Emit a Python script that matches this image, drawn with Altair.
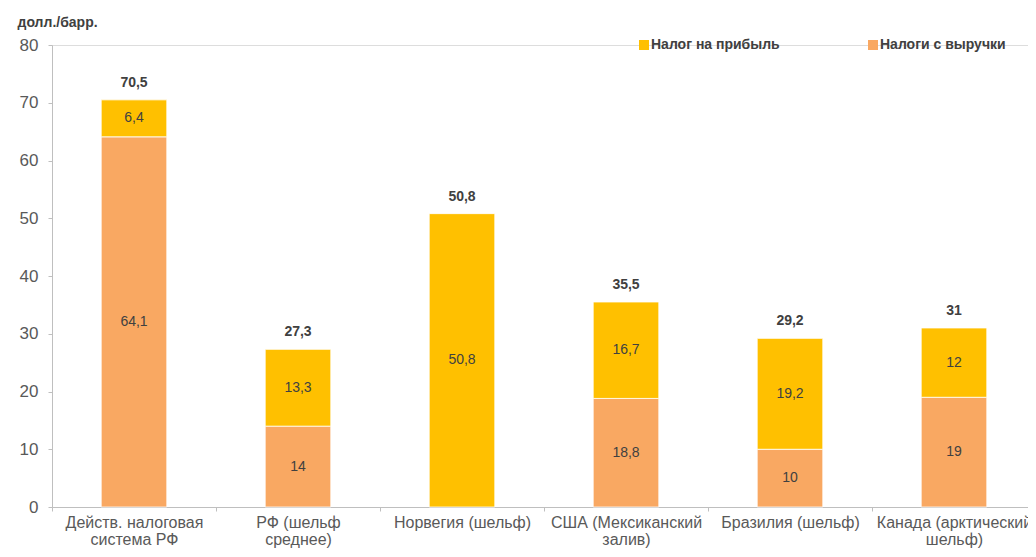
import altair as alt
import pandas as pd

categories = ["Действ. налоговая\nсистема РФ", "РФ (шельф\nсреднее)", "Норвегия (шельф)",
              "США (Мексиканский\nзалив)", "Бразилия (шельф)", "Канада (арктический\nшельф)"]
revenue = [64.1, 14, 0, 18.8, 10, 19]
profit = [6.4, 13.3, 50.8, 16.7, 19.2, 12]
totals = [70.5, 27.3, 50.8, 35.5, 29.2, 31]
series = ["Налог на прибыль", "Налоги с выручки"]
colors = ["#FFC000", "#F9A862"]


def fmt(v):
    return f"{v:g}".replace(".", ",")


rows = []
for c, r, p in zip(categories, revenue, profit):
    if r > 0:
        rows.append({"cat": c, "series": series[1], "value": r, "ord": 0, "label": fmt(r)})
    if p > 0:
        rows.append({"cat": c, "series": series[0], "value": p, "ord": 1, "label": fmt(p)})
df = pd.DataFrame(rows)
tot = pd.DataFrame({"cat": categories, "total": totals, "label": [fmt(t) for t in totals]})

FONT = "Liberation Sans"

xenc = alt.X("cat:N", sort=categories, title=None,
             scale=alt.Scale(paddingInner=0, paddingOuter=0),
             axis=alt.Axis(labelExpr="split(datum.label, '\\n')", labelAngle=0,
                           labelFontSize=16, labelColor="#595959", labelFont=FONT,
                           labelLineHeight=17, labelPadding=3, labelBaseline="top",
                           tickBand="extent", tickSize=4, tickColor="#bfbfbf",
                           domainColor="#bfbfbf", labelLimit=300))
yscale = alt.Scale(domain=[0, 80], nice=False)

base = alt.Chart(df).transform_stack(
    stack="value", groupby=["cat"], as_=["y0", "y1"], sort=[alt.SortField("ord", order="ascending")]
).transform_calculate(mid="(datum.y0 + datum.y1) / 2")

bars = base.mark_bar(width={"band": 0.4}, stroke="white", strokeWidth=0.8).encode(
    x=xenc,
    y=alt.Y("y0:Q", scale=yscale,
            axis=alt.Axis(values=list(range(0, 81, 10)), grid=False, tickSize=4,
                          tickColor="#bfbfbf", domainColor="#bfbfbf",
                          labelFontSize=17, labelColor="#595959", labelFont=FONT,
                          labelPadding=10,
                          title="долл./барр.", titleAngle=0, titleAlign="left",
                          titleBaseline="alphabetic", titleX=-35, titleY=-19,
                          titleFontSize=14, titleFontWeight="bold", titleColor="#404040",
                          titleFont=FONT)),
    y2="y1:Q",
    color=alt.Color("series:N", scale=alt.Scale(domain=series, range=colors),
                    legend=alt.Legend(title=None, orient="none", legendX=585, legendY=-7,
                                      direction="horizontal", symbolType="square",
                                      symbolSize=100, symbolStrokeWidth=0,
                                      labelFontSize=14, labelFontWeight="bold",
                                      labelColor="#404040", labelFont=FONT,
                                      labelOffset=0, columnPadding=86, padding=0,
                                      labelLimit=300)),
)

inner = base.mark_text(fontSize=14, color="#404040", font=FONT, baseline="middle").encode(
    x=alt.X("cat:N", sort=categories),
    y=alt.Y("mid:Q", scale=yscale),
    text="label:N",
)

top = alt.Chart(tot).mark_text(fontSize=14, fontWeight="bold", color="#404040", font=FONT,
                               baseline="middle", dy=-17).encode(
    x=alt.X("cat:N", sort=categories),
    y=alt.Y("total:Q", scale=yscale),
    text="label:N",
)

chart = alt.layer(bars, inner, top).properties(
    width=984, height=462,
    autosize=alt.AutoSizeParams(type="none"),
    padding={"left": 44, "top": 37, "right": -8, "bottom": 42},
).configure_view(stroke=None).configure(background="white")

chart.save("out.html", embed_options={"renderer": "svg", "actions": False})
